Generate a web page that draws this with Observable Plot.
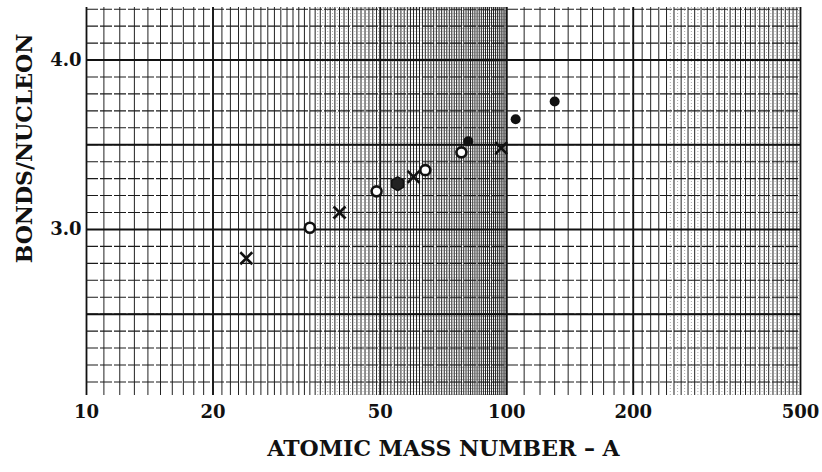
<!DOCTYPE html>
<html>
<head>
<meta charset="utf-8">
<script src="https://cdn.jsdelivr.net/npm/d3@7"></script>
<script src="https://cdn.jsdelivr.net/npm/@observablehq/plot@0.6"></script>
<style>
  html, body { margin: 0; padding: 0; background: #fff; }
</style>
</head>
<body>
<div id="chart"></div>
<script>
// ---- data ----
const crossA = [24, 40, 60, 97];
const crossV = [2.83, 3.10, 3.31, 3.48];
const openA = [34, 49, 64, 78];
const openV = [3.01, 3.225, 3.35, 3.455];
const filledA = [81, 105, 130];
const filledV = [3.52, 3.65, 3.755];
const hexA = [55];
const hexV = [3.27];
const xTicks = [10, 20, 50, 100, 200, 500];
const yTicks = [3.0, 4.0];
const xLabel = "ATOMIC MASS NUMBER – A";
const yLabel = "BONDS/NUCLEON";

// ---- log-paper grid positions ----
const vMajor = [];
for (let a = 10; a <= 100; a++) vMajor.push(a);
for (let a = 110; a <= 500; a += 10) vMajor.push(a);
const vHeavy = [10, 20, 50, 100, 200, 500];
const vFine = [];
for (let a = 35; a < 100; a++) vFine.push(a + 0.5);
for (let a = 245; a < 500; a += 10) vFine.push(a);
const hMinor = [];
for (let k = 21; k <= 43; k++) hMinor.push(k / 10);
const hHeavy = [2.5, 3.0, 3.5, 4.0];

const pts = (A, V) => A.map((a, i) => ({a, v: V[i]}));

const chart = Plot.plot({
  width: 822,
  height: 472,
  marginLeft: 86,
  marginRight: 22,
  marginTop: 7,
  marginBottom: 77,
  style: {fontFamily: "DejaVu Serif", fontWeight: "bold", color: "#111", background: "#fff"},
  x: {type: "log", domain: [10, 500]},
  y: {domain: [2.02, 4.31]},
  marks: [
    Plot.ruleX(vFine, {stroke: "#aaa", strokeWidth: 1, strokeDasharray: "1,2"}),
    Plot.ruleX(vMajor, {stroke: "#222", strokeWidth: 1}),
    Plot.ruleX(vHeavy, {stroke: "#111", strokeWidth: 1.8}),
    Plot.ruleY(hMinor, {stroke: "#1a1a1a", strokeWidth: 1.1, strokeDasharray: "12,2"}),
    Plot.ruleY(hHeavy, {stroke: "#111", strokeWidth: 2}),
    Plot.dot(pts(crossA, crossV), {x: "a", y: "v", symbol: "times", r: 5.5, stroke: "#111", strokeWidth: 2.6, fill: "none"}),
    Plot.dot(pts(openA, openV), {x: "a", y: "v", symbol: "circle", r: 5, stroke: "#111", strokeWidth: 2.6, fill: "#fff"}),
    Plot.dot(pts(filledA, filledV), {x: "a", y: "v", symbol: "circle", r: 5, fill: "#111", stroke: "none"}),
    Plot.dot(pts(hexA, hexV), {x: "a", y: "v", symbol: "hexagon", r: 6, fill: "#222", stroke: "#111", strokeWidth: 1.5}),
    Plot.axisX({ticks: xTicks, tickSize: 0, tickPadding: 10, fontSize: 18, tickFormat: d => String(d), label: null}),
    Plot.axisY({ticks: yTicks, tickSize: 0, tickPadding: 5, fontSize: 18, tickFormat: d3.format(".1f"), label: null}),
    Plot.text([xLabel], {frameAnchor: "bottom", textAnchor: "middle", dy: 60, fontSize: 22, text: d => d, fill: "#111"}),
    Plot.text([yLabel], {frameAnchor: "left", textAnchor: "middle", dx: -62, dy: -53, rotate: -90, fontSize: 22, text: d => d, fill: "#111"})
  ]
});
document.getElementById("chart").appendChild(chart);
</script>
</body>
</html>
